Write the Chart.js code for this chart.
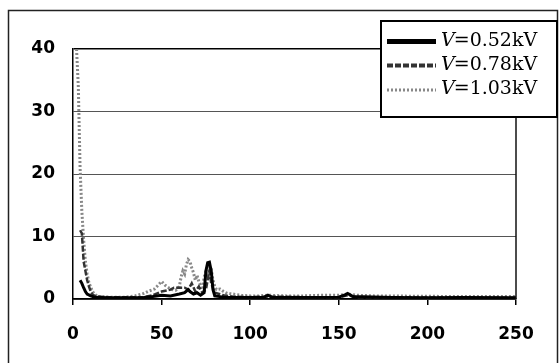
<!DOCTYPE html>
<html>
<head>
<meta charset="utf-8">
<script src="https://cdn.jsdelivr.net/npm/chart.js@4.4.1/dist/chart.umd.min.js"></script>
<style>
  html, body { margin: 0; padding: 0; background: #fff; }
  #wrap { width: 560px; height: 363px; position: relative; }
</style>
</head>
<body>
<div id="wrap"><canvas id="c" width="560" height="363"></canvas></div>
<script>
// Series names (applied voltage)
const seriesNames = ['=0.52kV', '=0.78kV', '=1.03kV'];

// V = 0.52 kV
const x052 = [4, 5, 6, 7, 8, 10, 12, 20, 30, 40, 45, 50, 55, 60, 63, 65, 66, 68, 70, 72, 74, 75, 76, 77, 78, 79, 80, 85, 100, 108, 110, 112, 130, 150, 153, 155, 158, 180, 200, 220, 250];
const y052 = [3, 2.5, 1.8, 1.2, 0.8, 0.5, 0.3, 0.2, 0.2, 0.25, 0.4, 0.6, 0.5, 0.8, 1.0, 1.5, 1.2, 0.8, 1.0, 0.6, 1.0, 4.5, 5.8, 5.9, 4.5, 1.5, 0.5, 0.3, 0.25, 0.3, 0.6, 0.3, 0.25, 0.3, 0.6, 0.9, 0.4, 0.25, 0.2, 0.25, 0.2];

// V = 0.78 kV
const x078 = [4, 5, 6, 7, 8, 9, 10, 11, 13, 20, 30, 40, 45, 50, 55, 57, 60, 63, 65, 67, 69, 71, 73, 75, 76, 77, 78, 80, 85, 90, 100, 110, 130, 150, 155, 160, 200, 250];
const y078 = [11, 10.5, 6, 4.5, 3, 2, 1.2, 0.7, 0.4, 0.3, 0.3, 0.3, 0.6, 1.2, 1.5, 1.8, 1.8, 1.8, 1.5, 2.5, 1.2, 2.0, 1.0, 1.5, 3.0, 4.5, 2.5, 1.0, 0.6, 0.4, 0.3, 0.4, 0.3, 0.3, 0.6, 0.3, 0.25, 0.2];

// V = 1.03 kV
const x103 = [2, 3, 4, 5, 6, 7, 8, 9, 10, 11, 12, 14, 20, 30, 35, 40, 43, 46, 48, 50, 52, 54, 56, 58, 60, 61, 62, 63, 64, 65, 66, 67, 68, 69, 70, 71, 72, 73, 74, 75, 76, 77, 78, 79, 80, 81, 83, 85, 87, 90, 95, 100, 105, 110, 120, 130, 140, 150, 155, 160, 170, 180, 190, 200, 210, 220, 230, 240, 250];
const y103 = [40, 34, 21, 14, 9.5, 6, 4, 2.6, 1.9, 1.2, 0.8, 0.4, 0.3, 0.3, 0.5, 0.9, 1.3, 1.6, 2.2, 2.8, 2.2, 1.8, 1.5, 1.4, 2.0, 3.5, 4.5, 4.0, 5.5, 6.3, 6.0, 5.0, 4.2, 3.0, 3.8, 2.8, 2.2, 1.5, 3.5, 4.5, 4.0, 5.2, 4.8, 3.0, 2.0, 1.5, 1.6, 1.2, 0.9, 0.8, 0.6, 0.5, 0.5, 0.6, 0.5, 0.5, 0.6, 0.6, 0.8, 0.6, 0.5, 0.5, 0.45, 0.45, 0.4, 0.4, 0.4, 0.4, 0.4];

// Axis ticks
const xTicks = [0, 50, 100, 150, 200, 250];
const yTicks = [0, 10, 20, 30, 40];

const toPoints = (xs, ys) => xs.map((x, i) => ({ x: x, y: ys[i] }));

// Outer frame, right plot border and the boxed legend
const decorations = {
  id: 'decorations',
  beforeDraw(chart) {
    const ctx = chart.ctx;
    ctx.save();
    ctx.fillStyle = '#fff';
    ctx.fillRect(0, 0, chart.width, chart.height);
    ctx.strokeStyle = '#222';
    ctx.lineWidth = 1.5;
    ctx.beginPath();
    ctx.moveTo(8.5, 363);
    ctx.lineTo(8.5, 10.5);
    ctx.lineTo(557.5, 10.5);
    ctx.lineTo(557.5, 363);
    ctx.stroke();
    ctx.restore();
  },
  afterDraw(chart) {
    const ctx = chart.ctx;
    const a = chart.chartArea;
    ctx.save();
    ctx.strokeStyle = '#111';
    ctx.lineWidth = 1.5;
    ctx.beginPath();
    ctx.moveTo(a.right, a.top);
    ctx.lineTo(a.right, a.bottom);
    ctx.stroke();

    // legend box
    const bx = 381, by = 21, bw = 176, bh = 96;
    ctx.fillStyle = '#fff';
    ctx.fillRect(bx, by, bw, bh);
    ctx.strokeStyle = '#000';
    ctx.lineWidth = 2;
    ctx.strokeRect(bx, by, bw, bh);

    const rows = [45.5, 69.5, 94];
    chart.data.datasets.forEach((ds, i) => {
      const y = rows[i];
      ctx.strokeStyle = ds.borderColor;
      ctx.lineWidth = ds.legendWidth;
      ctx.setLineDash(ds.borderDash || []);
      ctx.beginPath();
      ctx.moveTo(387, y - 4);
      ctx.lineTo(436, y - 4);
      ctx.stroke();
      ctx.setLineDash([]);
      ctx.fillStyle = '#000';
      ctx.textBaseline = 'alphabetic';
      ctx.font = 'italic 19px "DejaVu Serif"';
      ctx.fillText('V', 441, y);
      const w = ctx.measureText('V').width;
      ctx.font = '19px "DejaVu Serif"';
      ctx.fillText(seriesNames[i], 441 + w - 1, y);
    });
    ctx.restore();
  }
};

new Chart(document.getElementById('c'), {
  type: 'scatter',
  data: {
    datasets: [
      {
        label: 'V' + seriesNames[0],
        data: toPoints(x052, y052),
        showLine: true,
        borderColor: '#000',
        borderWidth: 3,
        legendWidth: 5,
        pointRadius: 0
      },
      {
        label: 'V' + seriesNames[1],
        data: toPoints(x078, y078),
        showLine: true,
        borderColor: '#333',
        borderWidth: 2.5,
        borderDash: [6, 2],
        legendWidth: 4,
        pointRadius: 0
      },
      {
        label: 'V' + seriesNames[2],
        data: toPoints(x103, y103),
        showLine: true,
        borderColor: '#888',
        borderWidth: 3,
        borderDash: [2, 2],
        legendWidth: 3,
        pointRadius: 0
      }
    ]
  },
  options: {
    responsive: false,
    animation: false,
    layout: { padding: { left: 0, top: 49, right: 44, bottom: 0 } },
    plugins: {
      legend: { display: false },
      tooltip: { enabled: false }
    },
    scales: {
      x: {
        type: 'linear',
        min: 0,
        max: 250,
        afterBuildTicks(scale) { scale.ticks = xTicks.map(v => ({ value: v })); },
        afterFit(scale) { scale.height = 64; },
        grid: { drawOnChartArea: false, color: '#000', tickLength: 6, lineWidth: 1.5 },
        border: { display: true, color: '#000', width: 1.5 },
        ticks: {
          color: '#000',
          padding: 19,
          maxRotation: 0,
          font: { family: 'DejaVu Sans', weight: 'bold', size: 17 }
        }
      },
      y: {
        min: 0,
        max: 40,
        afterBuildTicks(scale) { scale.ticks = yTicks.map(v => ({ value: v })); },
        afterFit(scale) { scale.width = 73; },
        grid: {
          drawTicks: false,
          color: ctx => (ctx.tick && (ctx.tick.value === 40) ? '#000' : '#555'),
          lineWidth: ctx => (ctx.tick && ctx.tick.value === 40 ? 1.5 : 1)
        },
        border: { display: true, color: '#000', width: 1.5 },
        ticks: {
          color: '#000',
          padding: 18,
          font: { family: 'DejaVu Sans', weight: 'bold', size: 17 }
        }
      }
    }
  },
  plugins: [decorations]
});
</script>
</body>
</html>
